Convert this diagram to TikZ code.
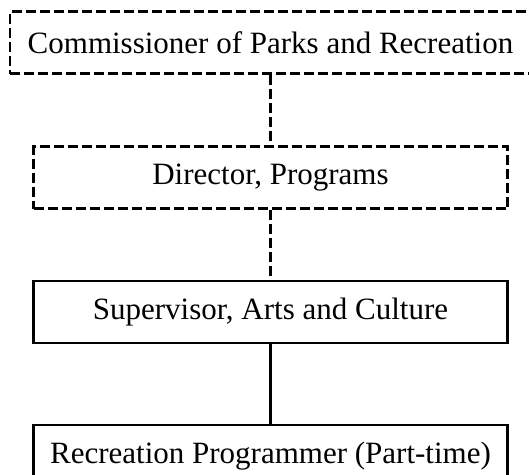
\documentclass[tikz,border=0pt]{standalone}
\usepackage{fontspec}
\setmainfont{Liberation Serif}
\begin{document}
\begin{tikzpicture}[x=1pt,y=-1pt,
  box/.style={draw=black,line width=2.5pt,minimum height=62pt,inner sep=0pt,font=\fontsize{31}{36}\selectfont},
  dbox/.style={box,dash pattern=on 10pt off 4pt},
  link/.style={draw=black,line width=2.5pt},
  dlink/.style={link,dash pattern=on 10pt off 4pt}]
\useasboundingbox (0,0) rectangle (529,474);
\node[dbox,minimum width=521pt] (comm) at (270.5,42.5) {Commissioner of Parks and Recreation};
\node[dbox,minimum width=474pt] (dir) at (270.5,177.5) {Director, Programs};
\node[box,minimum width=474pt] (sup) at (270.5,312) {Supervisor, Arts and Culture};
\node[box,minimum width=474pt] (rec) at (270.5,456) {Recreation Programmer (Part-time)};
\draw[dlink] (comm.south) -- (dir.north);
\draw[dlink] (dir.south) -- (sup.north);
\draw[link] (sup.south) -- (rec.north);
\end{tikzpicture}
\end{document}
